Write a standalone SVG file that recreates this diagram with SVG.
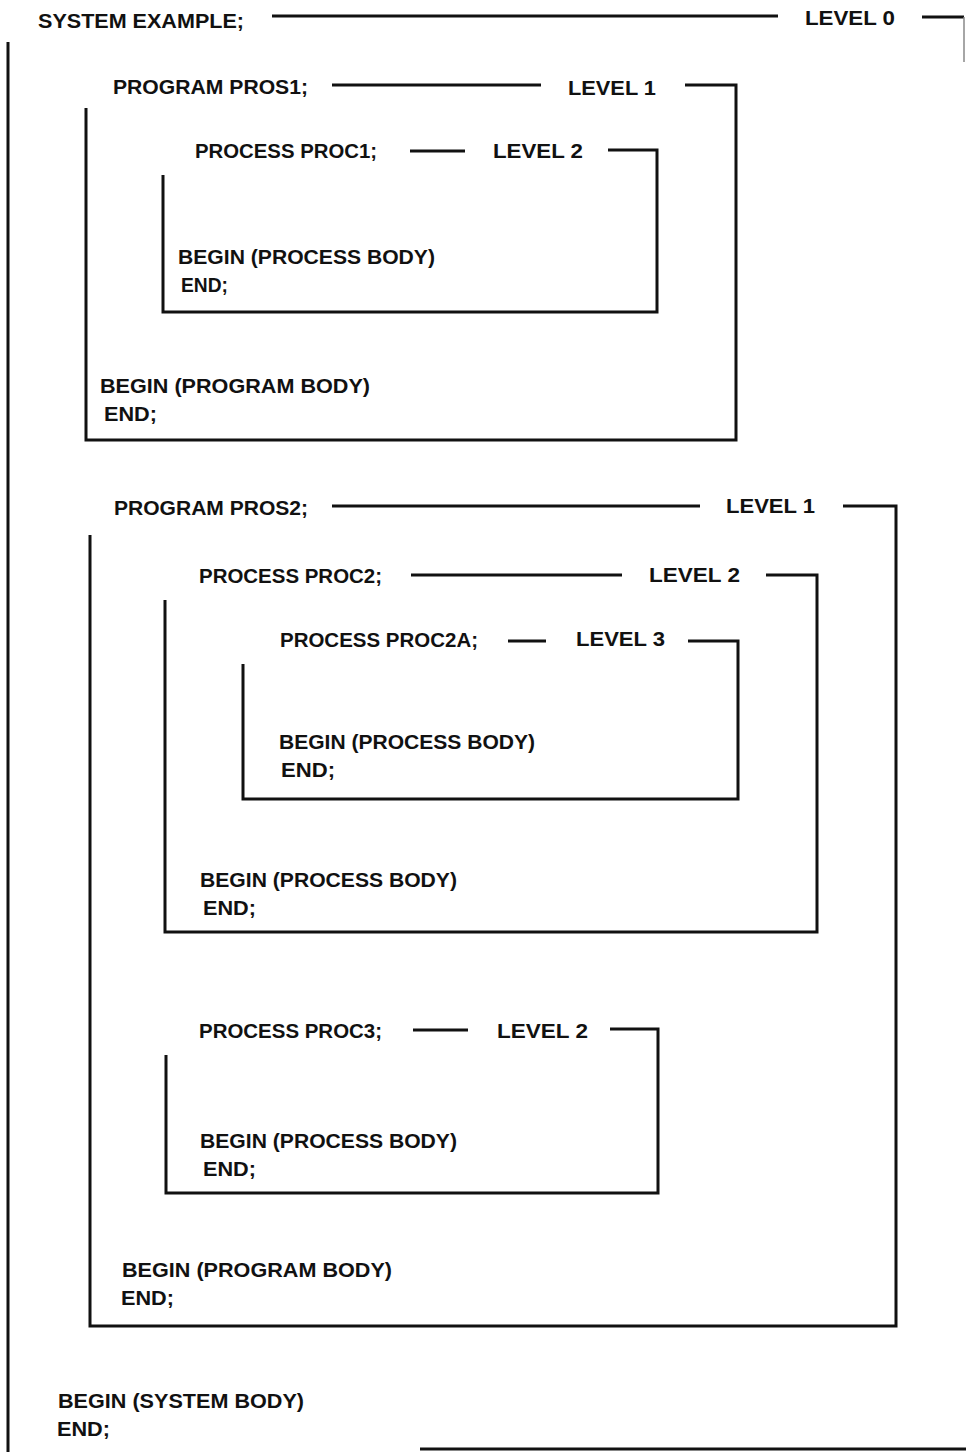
<svg xmlns="http://www.w3.org/2000/svg" width="966" height="1452" viewBox="0 0 966 1452">
<style>
.t{font-family:"Liberation Sans",Arial,sans-serif;font-weight:bold;font-size:19.5px;fill:#111}
.l{fill:none;stroke:#111;stroke-width:3;stroke-linecap:butt;stroke-linejoin:miter}
.f{fill:none;stroke:#888;stroke-width:1.5}
</style>
<rect width="966" height="1452" fill="#fff"/>
<g id="level0-system">
<text class="t" x="38" y="28" textLength="206" lengthAdjust="spacingAndGlyphs">SYSTEM EXAMPLE;</text>
<line class="l" x1="272" y1="16" x2="778" y2="16"/>
<text class="t" x="805" y="25" textLength="90" lengthAdjust="spacingAndGlyphs">LEVEL 0</text>
<line class="l" x1="922" y1="17" x2="964" y2="17"/>
<line class="f" x1="964" y1="17" x2="964" y2="62"/>
<line class="l" x1="8" y1="42" x2="8" y2="1452"/>
<line class="l" x1="420" y1="1449" x2="966" y2="1449" stroke="#444"/>
<text class="t" x="58" y="1408" textLength="246" lengthAdjust="spacingAndGlyphs">BEGIN (SYSTEM BODY)</text>
<text class="t" x="57" y="1436" textLength="53" lengthAdjust="spacingAndGlyphs">END;</text>
</g>
<g id="level1-pros1">
<text class="t" x="113" y="94" textLength="195" lengthAdjust="spacingAndGlyphs">PROGRAM PROS1;</text>
<line class="l" x1="332" y1="85" x2="541" y2="85"/>
<text class="t" x="568" y="95" textLength="88" lengthAdjust="spacingAndGlyphs">LEVEL 1</text>
<polyline class="l" points="685,85 736,85 736,440 86,440 86,108"/>
<text class="t" x="100" y="393" textLength="270" lengthAdjust="spacingAndGlyphs">BEGIN (PROGRAM BODY)</text>
<text class="t" x="104" y="421" textLength="53" lengthAdjust="spacingAndGlyphs">END;</text>
</g>
<g id="level2-proc1">
<text class="t" x="195" y="158" textLength="182" lengthAdjust="spacingAndGlyphs">PROCESS PROC1;</text>
<line class="l" x1="410" y1="151" x2="465" y2="151"/>
<text class="t" x="493" y="158" textLength="90" lengthAdjust="spacingAndGlyphs">LEVEL 2</text>
<polyline class="l" points="608,150 657,150 657,312 163,312 163,175"/>
<text class="t" x="178" y="264" textLength="257" lengthAdjust="spacingAndGlyphs">BEGIN (PROCESS BODY)</text>
<text class="t" x="181" y="292" textLength="47" lengthAdjust="spacingAndGlyphs">END;</text>
</g>
<g id="level1-pros2">
<text class="t" x="114" y="515" textLength="194" lengthAdjust="spacingAndGlyphs">PROGRAM PROS2;</text>
<line class="l" x1="332" y1="506" x2="700" y2="506"/>
<text class="t" x="726" y="513" textLength="89" lengthAdjust="spacingAndGlyphs">LEVEL 1</text>
<polyline class="l" points="843,506 896,506 896,1326 90,1326 90,535"/>
<text class="t" x="122" y="1277" textLength="270" lengthAdjust="spacingAndGlyphs">BEGIN (PROGRAM BODY)</text>
<text class="t" x="121" y="1305" textLength="53" lengthAdjust="spacingAndGlyphs">END;</text>
</g>
<g id="level2-proc2">
<text class="t" x="199" y="583" textLength="183" lengthAdjust="spacingAndGlyphs">PROCESS PROC2;</text>
<line class="l" x1="411" y1="575" x2="622" y2="575"/>
<text class="t" x="649" y="582" textLength="91" lengthAdjust="spacingAndGlyphs">LEVEL 2</text>
<polyline class="l" points="766,575 817,575 817,932 165,932 165,600"/>
<text class="t" x="200" y="887" textLength="257" lengthAdjust="spacingAndGlyphs">BEGIN (PROCESS BODY)</text>
<text class="t" x="203" y="915" textLength="53" lengthAdjust="spacingAndGlyphs">END;</text>
</g>
<g id="level3-proc2a">
<text class="t" x="280" y="647" textLength="198" lengthAdjust="spacingAndGlyphs">PROCESS PROC2A;</text>
<line class="l" x1="508" y1="641" x2="546" y2="641"/>
<text class="t" x="576" y="646" textLength="89" lengthAdjust="spacingAndGlyphs">LEVEL 3</text>
<polyline class="l" points="688,641 738,641 738,799 243,799 243,664"/>
<text class="t" x="279" y="749" textLength="256" lengthAdjust="spacingAndGlyphs">BEGIN (PROCESS BODY)</text>
<text class="t" x="281" y="777" textLength="54" lengthAdjust="spacingAndGlyphs">END;</text>
</g>
<g id="level2-proc3">
<text class="t" x="199" y="1038" textLength="183" lengthAdjust="spacingAndGlyphs">PROCESS PROC3;</text>
<line class="l" x1="413" y1="1030" x2="468" y2="1030"/>
<text class="t" x="497" y="1038" textLength="91" lengthAdjust="spacingAndGlyphs">LEVEL 2</text>
<polyline class="l" points="610,1029 658,1029 658,1193 166,1193 166,1055"/>
<text class="t" x="200" y="1148" textLength="257" lengthAdjust="spacingAndGlyphs">BEGIN (PROCESS BODY)</text>
<text class="t" x="203" y="1176" textLength="53" lengthAdjust="spacingAndGlyphs">END;</text>
</g>
</svg>
